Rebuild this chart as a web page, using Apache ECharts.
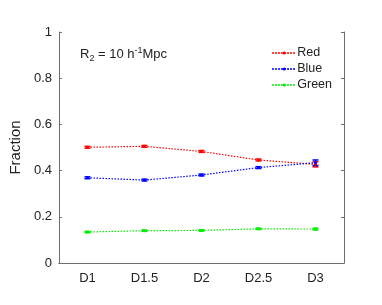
<!DOCTYPE html>
<html><head><meta charset="utf-8">
<script src="https://cdn.jsdelivr.net/npm/echarts@6/dist/echarts.min.js"></script>
<style>html,body{margin:0;padding:0;background:#fff}#c{width:382px;height:305px}</style>
</head><body><div id="c"></div>
<script>
const categories = ['D1','D1.5','D2','D2.5','D3'];
const redValues = [0.501, 0.505, 0.483, 0.446, 0.427];
const redErr = [0.004, 0.004, 0.004, 0.004, 0.011];
const blueValues = [0.369, 0.359, 0.381, 0.413, 0.434];
const blueErr = [0.004, 0.004, 0.004, 0.004, 0.012];
const greenValues = [0.134, 0.140, 0.141, 0.148, 0.147];
const greenErr = [0.003, 0.003, 0.003, 0.003, 0.004];
const yTicks = [0, 0.2, 0.4, 0.6, 0.8, 1];

const chart = echarts.init(document.getElementById('c'), null, {renderer:'canvas'});
const axisCol = '#6e6e6e';
const font = 'Liberation Sans, Arial, sans-serif';

function errSeries(name, vals, errs, color){
  return {
    type:'custom', name: name+'_err', xAxisIndex:0, yAxisIndex:0, silent:true, z:3,
    data: vals.map((v,i)=>[i, v-errs[i], v+errs[i]]),
    renderItem(params, api){
      const lo = api.coord([api.value(0), api.value(1)]);
      const hi = api.coord([api.value(0), api.value(2)]);
      const w = 3;
      const st = {stroke:color, lineWidth:1.5};
      return {type:'group', children:[
        {type:'line', shape:{x1:lo[0],y1:lo[1],x2:hi[0],y2:hi[1]}, style:st},
        {type:'line', shape:{x1:lo[0]-w,y1:lo[1],x2:lo[0]+w,y2:lo[1]}, style:st},
        {type:'line', shape:{x1:hi[0]-w,y1:hi[1],x2:hi[0]+w,y2:hi[1]}, style:st}
      ]};
    }
  };
}
function lineSeries(name, vals, color){
  return {
    type:'line', name, data: vals, symbol:'circle', symbolSize:3,
    itemStyle:{color}, lineStyle:{color, width:1.2, type:[1.5,1.5]}, z:4
  };
}

chart.setOption({
  animation:false,
  textStyle:{fontFamily:font},
  grid:{left:51.5, right:38, top:32, bottom:42},
  legend:{
    right:45, top:41, orient:'vertical', itemGap:2, itemWidth:24, itemHeight:4,
    data:['Red','Blue','Green'],
    textStyle:{fontFamily:font, fontSize:12.5, color:'#222', lineHeight:14, padding:[0,0,0,-4]}
  },
  graphic:[{
    type:'text', left:80, top:46,
    style:{
      text:'R{sub|2} = 10 h{sup|-1}Mpc',
      font:'13px '+font, fill:'#222',
      rich:{
        sub:{fontSize:9, fontFamily:font, verticalAlign:'bottom', padding:[8,0,0,0], fill:'#222'},
        sup:{fontSize:9, fontFamily:font, verticalAlign:'top', padding:[0,0,6,0], fill:'#222'}
      }
    }
  }],
  xAxis:[{
    type:'category', data:categories, boundaryGap:true, position:'bottom',
    axisLine:{lineStyle:{color:axisCol}},
    axisTick:{inside:true, alignWithLabel:true, length:3, lineStyle:{color:axisCol}},
    axisLabel:{color:'#222', fontSize:13, margin:9, fontFamily:font},
    splitLine:{show:false}
  },{
    type:'category', data:categories, boundaryGap:true, position:'top',
    axisLine:{lineStyle:{color:axisCol}},
    axisTick:{inside:true, alignWithLabel:true, length:3, lineStyle:{color:axisCol}},
    axisLabel:{show:false}
  }],
  yAxis:[{
    type:'value', min:0, max:1, interval:0.2, position:'left',
    name:'Fraction', nameLocation:'middle', nameGap:31,
    nameTextStyle:{fontSize:15, color:'#222', fontFamily:font},
    axisLine:{show:true, lineStyle:{color:axisCol}},
    axisTick:{show:true, inside:true, length:3, lineStyle:{color:axisCol}},
    axisLabel:{color:'#222', fontSize:13, margin:7, fontFamily:font,
      formatter:v=>{const t=yTicks.find(x=>Math.abs(x-v)<1e-9); return t===undefined?'':String(t);}},
    splitLine:{show:false}
  },{
    type:'value', min:0, max:1, interval:0.2, position:'right',
    axisLine:{show:true, lineStyle:{color:axisCol}},
    axisTick:{show:true, inside:true, length:3, lineStyle:{color:axisCol}},
    axisLabel:{show:false}, splitLine:{show:false}
  }],
  series:[
    lineSeries('Red', redValues, '#ff0000'),
    lineSeries('Blue', blueValues, '#0000ff'),
    lineSeries('Green', greenValues, '#00ee00'),
    errSeries('Red', redValues, redErr, '#ff0000'),
    errSeries('Blue', blueValues, blueErr, '#0000ff'),
    errSeries('Green', greenValues, greenErr, '#00ee00')
  ]
});
</script></body></html>
